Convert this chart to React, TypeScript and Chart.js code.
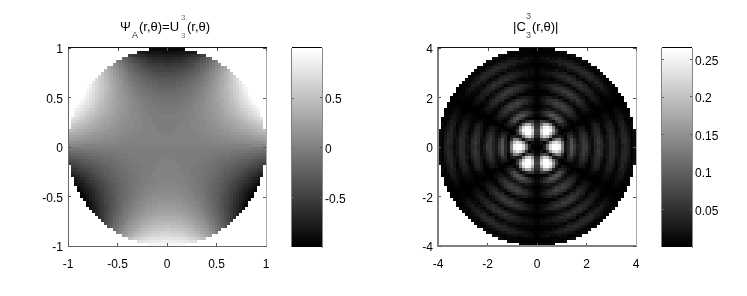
import React, { useEffect, useRef } from "react";
import { Chart, registerables } from "chart.js";

Chart.register(...registerables);

const PAGE_W = 747;
const PAGE_H = 296;

// Estimated grey levels. Upper-right quadrant of each disc:
// first row is just above the centre line, first character is just right of the vertical axis.
// Left disc: 64 levels, 0-9 a-z A-Z + - (value = level mapped onto -1..1; lower half has the opposite sign).
const psiLevelChars = "0123456789abcdefghijklmnopqrstuvwxyzABCDEFGHIJKLMNOPQRSTUVWXYZ+-";
const psiQuadrantRows = [
  "wwwwwwwwwwwwwwwwwwwwwwwwwwwwxxxxx",
  "wwwwwwwwwwwwwwwwxxxxxxyyyyyzzzzAA",
  "wwwwwwwwwwwwwxxxxyyyyzzzzAABBBCCD",
  "wwwwwwwwwwwxxxxyyyzzzAABBBCCDEEEF",
  "vvwwwwwwwwxxxyyyzzAAABBCCDEEFGHHI",
  "vvvwwwwwwxxxyyyzzAABBCDDEFFGHIJKL",
  "vvvvwwwwxxxyyyzzABBCDDEFGGHIJKLM",
  "vvvvwwwwxxxyyzzAABCDDEFGHIJKLMOO",
  "vvvvvwwwxxxyyzAABCDEEFGHIJLMNOQR",
  "vvvvvwwwxxyyzzABCCDEFGHIKLMOPRSU",
  "vvvvvvwwwxyyzAABCDEFGHIKLMOQRTV",
  "uuuvvvwwwxyyzABBCDEGHIKLNOPRTUW",
  "uuuuvvvwwxxyzABCDEFGIJKMOPRSVWY",
  "ttuuuuvvwxxyzABCDEGHIKLNPRSUWY",
  "ttttuuuvwwxyzABCDEGHJLMOQSUWY+",
  "sstttuuvvwxyzABCEFGIJLNPRTVX+",
  "ssssstuuvwwxyABCDFHIKMOQSUWZ-",
  "rrrrssttuvwxyzBCDFHIKMOQSUX+",
  "qqqrrssttuvwyzACDFHJKNPRTWY",
  "pppqqrrstuvwxzABDFHJLNPRUXZ",
  "oooppqqrstuvwyzBDFGJLNPSUX",
  "nnnooppqrstuwxzBCEGILNPSV",
  "mmmmnnopqrstvwyACEGIKNQS",
  "kklllmnopqrsuwxzBDFIKNQ",
  "jjjjkllmnoqrtvxyACFHKN",
  "hhhiijklmnoqrtwxACEGJ",
  "fggghhijkmnpqsuwyADG",
  "deeeffghikmnpqtvxA",
  "bbcccdeghijlnprtw",
  "99aaabcdefhjlnp",
  "7777889abcdfg",
  "4455556678",
  "222223",
];

// Right disc: base 36, 0 = darkest, z = lightest.
const magnitudeQuadrantRows = [
  "014guzzxi36c845884257633663245412",
  "1307ksvqf36b735873268623663256412",
  "28b82ahh716a636863267623663256412",
  "6lsqg4353167325752357424552355312",
  "8rzzsg710244225641366313642355312",
  "9tzzxl820012124421355214541354213",
  "7oxyth41321012331135412443135321",
  "6fong5255420001101343124421443 12".replace(" ", ""),
  "3886327a841121000122112331234211",
  "011269ca622332100111112221233111",
  "1358bb9633554210100001221123211",
  "2478874346764112211001110122111",
  "1234334688752123321000000121101",
  "012235889863134431011100011101",
  "123568987522356421122100000001",
  "13467775312557541233210010000",
  "12344331246776321343201111000",
  "0111112466886422444211221100",
  "001134568875313455312232100",
  "122346777642246653222432101",
  "12345554321356754123442111",
  "1222222223467653133543111",
  "001111234676532135543211",
  "01122345655431345653211",
  "1223344444212356653112",
  "122222322133456542112",
  "01111112235566432112",
  "001112244555432112",
  "11223344443321122",
  "122322232211122",
  "0111111111123",
  "0000111112",
  "001111",
];

const colorbarLevels = [
  0, 1, 2, 3, 4, 5, 6, 7, 8, 9, 10, 11, 12, 13, 14, 15, 16, 17, 18, 19, 20, 21, 22, 23, 24, 25, 26, 27, 28, 29, 30, 31,
  32, 33, 34, 35, 36, 37, 38, 39, 40, 41, 42, 43, 44, 45, 46, 47, 48, 49, 50, 51, 52, 53, 54, 55, 56, 57, 58, 59, 60,
  61, 62, 63,
];

const psiAxisTicks = [-1, -0.5, 0, 0.5, 1];
const magnitudeAxisTicks = [-4, -2, 0, 2, 4];
const psiBarTicks = [-0.5, 0, 0.5];
const magnitudeBarTicks = [0.05, 0.1, 0.15, 0.2, 0.25];

const PSI_RADIUS = 1;
const MAG_RADIUS = 4;
const PSI_RANGE = [-1, 1];
const MAG_RANGE = [0, 0.265];
const FONT = "'Liberation Sans', Arial, sans-serif";
const CELL_RADIUS = 3 * Math.SQRT1_2;

const grey = (t: number) => {
  const idx = Math.min(63, Math.max(0, Math.floor(t * 64)));
  const g = Math.round((idx / 63) * 255);
  return `rgb(${g},${g},${g})`;
};

type Cell = { x: number; y: number };

function psiCells() {
  const cell = PSI_RADIUS / 33;
  const data: Cell[] = [];
  const colors: string[] = [];
  psiQuadrantRows.forEach((row, j) => {
    [...row].forEach((ch, i) => {
      const v = (psiLevelChars.indexOf(ch) - 31.5) / 31.5;
      for (const sx of [1, -1]) {
        for (const sy of [1, -1]) {
          data.push({ x: sx * (i + 0.5) * cell, y: sy * (j + 0.5) * cell });
          colors.push(grey((sy * v + 1) / 2));
        }
      }
    });
  });
  return { data, colors };
}

function magnitudeCells() {
  const cell = MAG_RADIUS / 33;
  const data: Cell[] = [];
  const colors: string[] = [];
  magnitudeQuadrantRows.forEach((row, j) => {
    [...row].forEach((ch, i) => {
      const v = (parseInt(ch, 36) / 35) * MAG_RANGE[1];
      for (const sx of [1, -1]) {
        for (const sy of [1, -1]) {
          data.push({ x: sx * (i + 0.5) * cell, y: sy * (j + 0.5) * cell });
          colors.push(grey(v / MAG_RANGE[1]));
        }
      }
    });
  });
  return { data, colors };
}

type Rect = { x0: number; y0: number; x1: number; y1: number };

const fixed = (values: number[]) => (scale: any) => {
  scale.ticks = values.map((value) => ({ value }));
};
const plain = (value: any) => String(value);

const fitW = (w: number) => (scale: any) => {
  scale.width = w;
};
const fitH = (h: number) => (scale: any) => {
  scale.height = h;
};

type Borders = { left: string; bottom: string; top: string; right: string; width: number };

function heatScales(radius: number, ticks: number[], b: Borders) {
  const tickFont = { family: FONT, size: 12 };
  const shared = { type: "linear", min: -radius, max: radius, afterBuildTicks: fixed(ticks) };
  const grid = { drawOnChartArea: false, drawTicks: true, tickLength: -3, tickColor: "#555", z: 1 };
  return {
    x: {
      ...shared,
      position: "bottom",
      grid,
      border: { color: b.bottom, width: b.width, z: 1 },
      ticks: { color: "#000", font: tickFont, padding: 14, maxRotation: 0, autoSkip: false, callback: plain },
      afterFit: fitH(30),
    },
    y: {
      ...shared,
      position: "left",
      grid,
      border: { color: b.left, width: b.width, z: 1 },
      ticks: { color: "#000", font: tickFont, padding: 8, labelOffset: 2, autoSkip: false, callback: plain },
      afterFit: fitW(40),
    },
  };
}

type Piece = [string, number, number, number, string];

const psiTitle: Piece[] = [
  ["Ψ", 120, 31, 13, "#000"],
  ["A", 132, 38, 9, "#333"],
  ["(r,θ)=U", 139, 31, 13, "#000"],
  ["3", 181, 20, 8, "#777"],
  ["3", 181, 38, 8, "#777"],
  ["(r,θ)", 187, 31, 13, "#000"],
];

const magnitudeTitle: Piece[] = [
  ["|C", 513, 31, 13, "#000"],
  ["3", 526, 19, 9, "#555"],
  ["3", 526, 38, 9, "#555"],
  ["(r,θ)|", 532, 31, 13, "#000"],
];

const titlePlugin = (pieces: Piece[]) => ({
  id: "pieceTitle",
  afterDraw(chart: any) {
    const ctx = chart.ctx;
    ctx.save();
    ctx.textBaseline = "alphabetic";
    ctx.textAlign = "left";
    for (const [text, x, y, size, color] of pieces) {
      ctx.font = `${size}px ${FONT}`;
      ctx.fillStyle = color;
      ctx.fillText(text, x, y);
    }
    ctx.restore();
  },
});

// The remaining sides of each axes box and their inward ticks, which Chart.js has no mirrored option for.
const heatFrame = (ticks: number[], top: string, right: string) => ({
  id: "heatFrame",
  afterDraw(chart: any) {
    const { ctx, chartArea: a, scales } = chart;
    ctx.save();
    ctx.lineWidth = 1;
    ctx.strokeStyle = top;
    ctx.beginPath();
    ctx.moveTo(a.left, a.top - 0.5);
    ctx.lineTo(a.right + 1, a.top - 0.5);
    ctx.stroke();
    ctx.strokeStyle = right;
    ctx.beginPath();
    ctx.moveTo(a.right + 0.5, a.top);
    ctx.lineTo(a.right + 0.5, a.bottom);
    ctx.stroke();
    ctx.strokeStyle = "#555";
    ctx.beginPath();
    for (const t of ticks) {
      const x = Math.round(scales.x.getPixelForValue(t)) + 0.5;
      ctx.moveTo(x, a.top);
      ctx.lineTo(x, a.top + 3);
      const y = Math.round(scales.y.getPixelForValue(t)) + 0.5;
      ctx.moveTo(a.right, y);
      ctx.lineTo(a.right - 3, y);
    }
    ctx.stroke();
    ctx.restore();
  },
});

const barFrame = (ticks: number[]) => ({
  id: "barFrame",
  afterDraw(chart: any) {
    const { ctx, chartArea: a, scales } = chart;
    ctx.save();
    ctx.lineWidth = 1;
    ctx.strokeStyle = "#000";
    ctx.beginPath();
    ctx.moveTo(a.left, a.top - 0.5);
    ctx.lineTo(a.right, a.top - 0.5);
    ctx.stroke();
    ctx.strokeStyle = "#808080";
    ctx.beginPath();
    ctx.moveTo(a.left - 0.5, a.top);
    ctx.lineTo(a.left - 0.5, a.bottom);
    ctx.stroke();
    ctx.strokeStyle = "#666";
    ctx.beginPath();
    for (const t of ticks) {
      const y = Math.round(scales.y.getPixelForValue(t)) + 0.5;
      ctx.moveTo(a.left, y);
      ctx.lineTo(a.left + 2, y);
    }
    ctx.stroke();
    ctx.restore();
  },
});

function heatConfig(rect: Rect, radius: number, ticks: number[], cells: { data: Cell[]; colors: string[] }, pieces: Piece[], b: Borders) {
  return {
    type: "scatter",
    data: {
      datasets: [
        {
          data: cells.data,
          pointStyle: "rect",
          pointRadius: CELL_RADIUS,
          pointHoverRadius: CELL_RADIUS,
          pointBorderWidth: 0,
          pointBackgroundColor: cells.colors,
          xAxisID: "x",
          yAxisID: "y",
        },
      ],
    },
    options: {
      responsive: false,
      animation: false,
      events: [],
      layout: {
        padding: { left: rect.x0 - 40, top: rect.y0, right: PAGE_W - rect.x1, bottom: PAGE_H - rect.y1 - 30 },
      },
      plugins: { legend: { display: false }, tooltip: { enabled: false } },
      scales: heatScales(radius, ticks, b),
    },
    plugins: [heatFrame(ticks, b.top, b.right), titlePlugin(pieces)],
  };
}

function barConfig(rect: Rect, range: number[], ticks: number[]) {
  const span = range[1] - range[0];
  const values = colorbarLevels.map((l) => range[0] + ((l + 0.5) / 64) * span);
  const thickness = (rect.y1 - rect.y0) / 64 + 0.6;
  const tickFont = { family: FONT, size: 12 };
  return {
    type: "bar",
    data: {
      datasets: [
        {
          data: values.map((y) => ({ x: [0, 1], y })),
          backgroundColor: colorbarLevels.map((l) => grey((l + 0.5) / 64)),
          borderWidth: 0,
          barThickness: thickness,
          xAxisID: "x",
          yAxisID: "y",
        },
      ],
    },
    options: {
      indexAxis: "y",
      responsive: false,
      animation: false,
      events: [],
      layout: { padding: { left: rect.x0, top: rect.y0, right: PAGE_W - rect.x1 - 50, bottom: PAGE_H - rect.y1 } },
      plugins: { legend: { display: false }, tooltip: { enabled: false } },
      scales: {
        x: { type: "linear", display: false, min: 0, max: 1 },
        y: {
          type: "linear",
          offset: false,
          min: range[0],
          max: range[1],
          position: "right",
          grid: { drawOnChartArea: false, drawTicks: true, tickLength: -2, tickColor: "#555", z: 1, offset: false },
          border: { color: "#888", width: 1, z: 1 },
          ticks: { color: "#000", font: tickFont, padding: 5, labelOffset: 2, autoSkip: false, callback: plain },
          afterBuildTicks: fixed(ticks),
          afterFit: fitW(50),
        },
      },
    },
    plugins: [barFrame(ticks)],
  };
}

const LEFT_AXES: Rect = { x0: 68, y0: 48, x1: 266, y1: 246 };
const RIGHT_AXES: Rect = { x0: 438, y0: 48, x1: 636, y1: 246 };
const LEFT_BAR: Rect = { x0: 292, y0: 48, x1: 322, y1: 247 };
const RIGHT_BAR: Rect = { x0: 662, y0: 48, x1: 692, y1: 247 };

export default function App() {
  const refs = [useRef<HTMLCanvasElement>(null), useRef<HTMLCanvasElement>(null), useRef<HTMLCanvasElement>(null), useRef<HTMLCanvasElement>(null)];

  useEffect(() => {
    const configs: any[] = [
      heatConfig(LEFT_AXES, PSI_RADIUS, psiAxisTicks, psiCells(), psiTitle, {
        left: "#666",
        bottom: "#666",
        top: "#111",
        right: "#aaa",
        width: 1,
      }),
      barConfig(LEFT_BAR, PSI_RANGE, psiBarTicks),
      heatConfig(RIGHT_AXES, MAG_RADIUS, magnitudeAxisTicks, magnitudeCells(), magnitudeTitle, {
        left: "#808080",
        bottom: "#808080",
        top: "#111",
        right: "#aaa",
        width: 2,
      }),
      barConfig(RIGHT_BAR, MAG_RANGE, magnitudeBarTicks),
    ];
    const charts = configs.map((c, i) => new Chart(refs[i].current as HTMLCanvasElement, c));
    return () => charts.forEach((c) => c.destroy());
  }, []);

  return (
    <div style={{ position: "absolute", left: 0, top: 0, width: PAGE_W, height: PAGE_H, background: "#fff", overflow: "hidden" }}>
      {refs.map((r, i) => (
        <canvas key={i} ref={r} width={PAGE_W} height={PAGE_H} style={{ position: "absolute", left: 0, top: 0 }} />
      ))}
    </div>
  );
}
